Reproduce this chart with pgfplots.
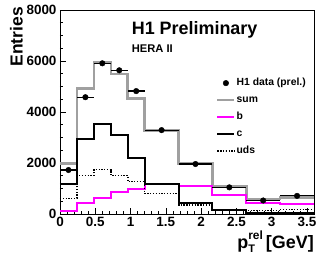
\documentclass[border=0pt]{standalone}
\usepackage{fontspec}
\setmainfont{Liberation Sans}
\usepackage{pgfplots}
\pgfplotsset{compat=1.18}
\definecolor{sumgray}{RGB}{160,160,160}
\definecolor{bmag}{RGB}{255,0,255}
\begin{document}
\begin{tikzpicture}
\begin{axis}[
  at={(0,0)}, anchor=south west,
  scale only axis, width=254bp, height=204bp,
  xmin=0, xmax=3.6, ymin=0, ymax=8000,
  xtick={0,0.5,1,1.5,2,2.5,3,3.5},
  ytick={0,2000,4000,6000,8000},
  minor x tick num=4, minor y tick num=3,
  tick pos=left,
  major tick length=6bp, minor tick length=3bp,
  tick style={black, line width=0.6bp},
  axis line style={line width=0.8bp},
  ticklabel style={font=\bfseries\fontsize{13.5}{13.5}\selectfont},
  /pgf/number format/assume math mode=true,
  /pgf/number format/1000 sep={},
  scaled y ticks=false,
  ylabel={Entries},
  ylabel style={at={([xshift=-37.3bp,yshift=3bp]rel axis cs:0,1)}, anchor=base east, inner sep=0pt, font=\bfseries\fontsize{17.5}{17.5}\selectfont},
  xlabel={p\makebox[0pt][l]{\raisebox{-4bp}{\fontsize{11}{11}\selectfont T}}\raisebox{8.5bp}{\fontsize{12}{12}\selectfont rel}\hspace{3bp}[GeV]},
  xlabel style={at={(rel axis cs:1,0)}, anchor=base east, yshift=-34bp, inner sep=0pt, font=\bfseries\fontsize{18}{18}\selectfont},
  legend style={draw=none, fill=none, at={(rel axis cs:0.614,0.672)}, anchor=north west,
    font=\bfseries\fontsize{10.4}{12}\selectfont, inner sep=0pt, row sep=5bp,
    nodes={inner sep=1bp, text height=7.5bp, text depth=2.5bp}},
  legend cell align=left,
]
\addlegendimage{legend image code/.code={\fill[black] (0.3cm,0cm) circle (2.8bp);}}
\addlegendentry{H1 data (prel.)}

\addplot[const plot, sumgray, line width=2.5bp] coordinates {
(0,1990)(0.24,4930)(0.48,5970)(0.72,5490)(0.96,4520)(1.2,3270)(1.68,1990)(2.16,1100)(2.64,580)(3.12,640)(3.6,640)};
\addlegendentry{sum}

\addplot[const plot, bmag, line width=2bp] coordinates {
(0,130)(0.24,430)(0.48,645)(0.72,845)(0.96,980)(1.2,1190)(1.68,1110)(2.16,730)(2.64,420)(3.12,380)(3.6,380)};
\addlegendentry{b}

\addplot[const plot, black, line width=2bp] coordinates {
(0,1190)(0.24,2930)(0.48,3530)(0.72,3100)(0.96,2200)(1.2,1170)(1.68,425)(2.16,145)(2.64,35)(3.12,30)(3.6,30)};
\addlegendentry{c}

\addplot[const plot, black, line width=1.6bp, dash pattern=on 1.3bp off 1.5bp] coordinates {
(0,615)(0.24,1510)(0.48,1740)(0.72,1510)(0.96,1270)(1.2,800)(1.68,350)(2.16,175)(2.64,130)(3.12,180)(3.6,180)};
\addlegendentry{uds}

\addplot[forget plot, only marks, mark=*, mark size=2.8bp, black,
  error bars/.cd, x dir=both, x explicit, error mark=none,
  error bar style={line width=1.2bp, black}] coordinates {
(0.12,1725) +- (0.12,0)
(0.36,4580) +- (0.12,0)
(0.60,5910) +- (0.12,0)
(0.84,5635) +- (0.12,0)
(1.08,4820) +- (0.12,0)
(1.44,3290) +- (0.24,0)
(1.92,1960) +- (0.24,0)
(2.40,1045) +- (0.24,0)
(2.88,530) +- (0.24,0)
(3.36,710) +- (0.24,0)
};

\node[anchor=base west, inner sep=0pt, font=\bfseries\fontsize{18}{18}\selectfont] at (rel axis cs:0.282,0.882) {H1 Preliminary};
\node[anchor=base west, inner sep=0pt, font=\bfseries\fontsize{11.2}{11.2}\selectfont] at (rel axis cs:0.282,0.791) {HERA II};
\end{axis}
\pgfresetboundingbox
\useasboundingbox (-60bp,-44bp) rectangle (256bp,214bp);
\end{tikzpicture}
\end{document}
